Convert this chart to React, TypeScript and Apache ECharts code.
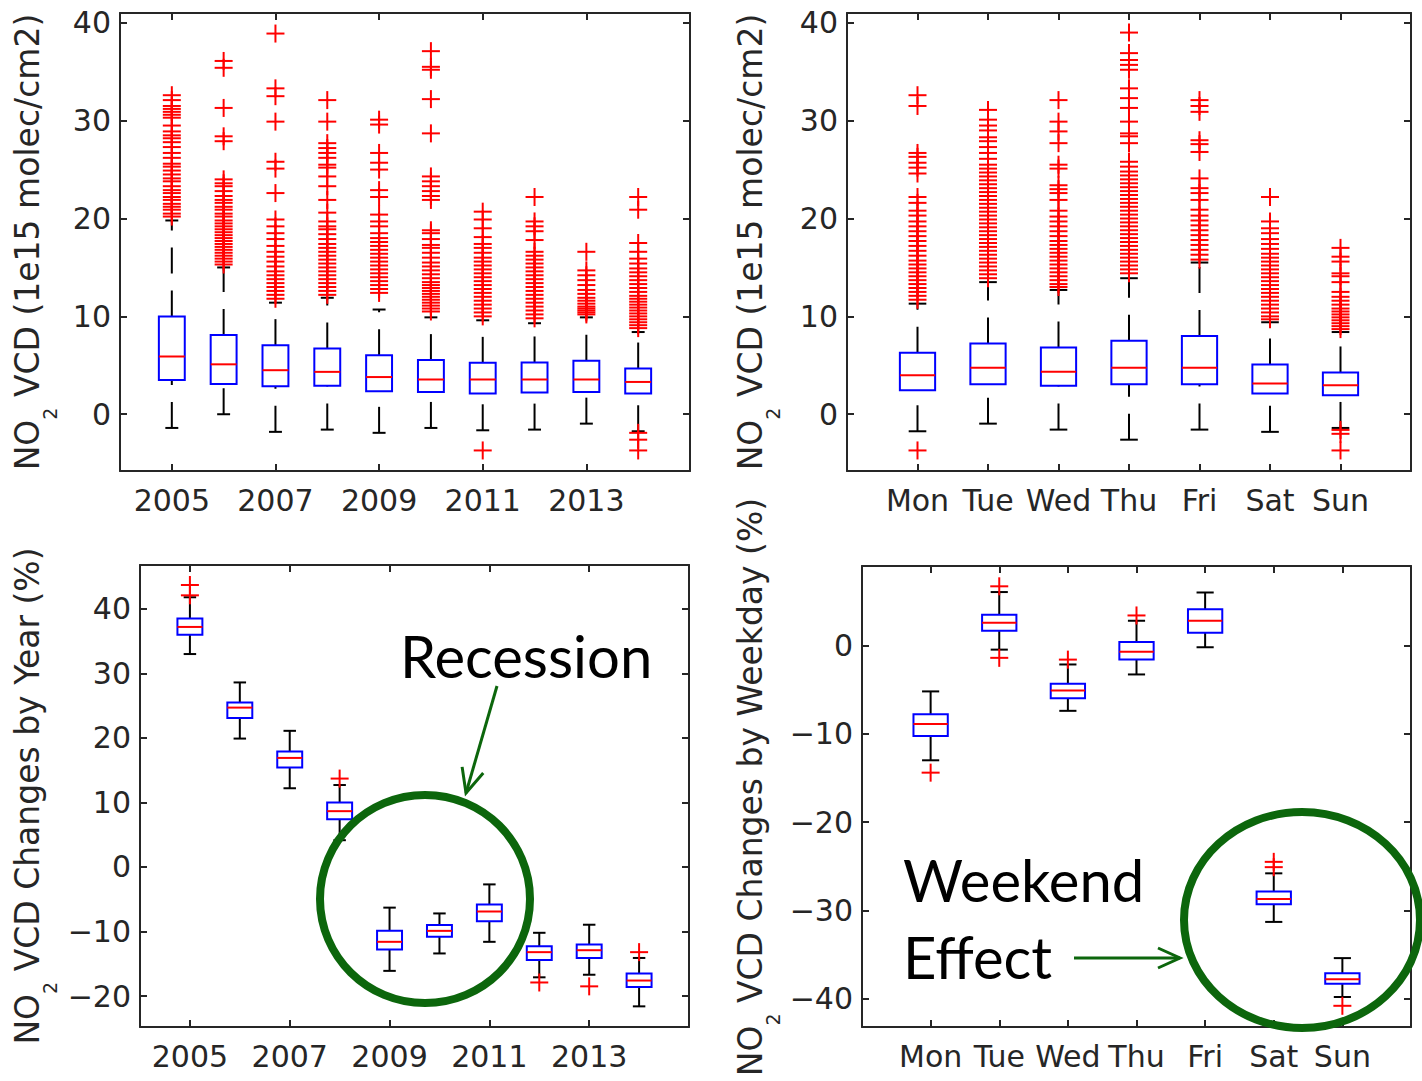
import React, { useEffect, useRef } from 'react';
import * as echarts from 'echarts';

// ---------- categories / ticks ----------
const years = [2005, 2006, 2007, 2008, 2009, 2010, 2011, 2012, 2013, 2014];
const yearTickValues = [2005, 2007, 2009, 2011, 2013];
const weekdays = ['Mon', 'Tue', 'Wed', 'Thu', 'Fri', 'Sat', 'Sun'];
const weekdayPositions = [1, 2, 3, 4, 5, 6, 7];
const vcdTicks = [0, 10, 20, 30, 40];
const yearChangeTicks = [-20, -10, 0, 10, 20, 30, 40];
const weekdayChangeTicks = [-40, -30, -20, -10, 0];

// ---------- panel a: NO2 VCD by year ----------
const vcdYearQ1 = [3.5, 3.1, 2.87, 2.9, 2.35, 2.28, 2.12, 2.22, 2.28, 2.12];
const vcdYearMedian = [5.9, 5.1, 4.5, 4.33, 3.8, 3.55, 3.55, 3.55, 3.55, 3.3];
const vcdYearQ3 = [10.0, 8.1, 7.06, 6.72, 6.04, 5.53, 5.25, 5.29, 5.46, 4.67];
const vcdYearLow = [-1.4, 0.0, -1.8, -1.57, -1.9, -1.4, -1.64, -1.57, -0.96, -1.74];
const vcdYearHigh = [19.8, 15.0, 11.4, 11.9, 10.7, 9.9, 9.6, 9.3, 9.9, 8.4];
const vcdYearOutliers = [
  [32.6, 32.1, 31.5, 31.2, 30.9, 30.6, 30.3, 29.5, 28.9, 28.5, 28.2, 27.8, 27.3, 26.7, 26.2, 25.6, 25.3, 24.9, 24.5, 24.1, 23.8, 23.3, 22.9, 22.6, 22.2, 21.9, 21.5, 21.2, 20.9, 20.5, 20.2],
  [36.1, 35.4, 31.3, 28.4, 27.9, 24.0, 23.6, 23.3, 22.8, 22.3, 21.9, 21.6, 21.2, 20.9, 20.5, 20.2, 19.8, 19.5, 19.2, 18.9, 18.6, 18.3, 18.0, 17.7, 17.4, 17.1, 16.8, 16.5, 16.2, 15.9, 15.6, 15.3],
  [38.9, 33.3, 32.5, 29.9, 25.8, 25.1, 22.6, 19.9, 19.2, 18.5, 17.9, 17.2, 16.6, 16.1, 15.6, 15.1, 14.6, 14.2, 13.8, 13.4, 13.0, 12.6, 12.2, 11.8],
  [32.1, 29.9, 27.7, 27.2, 26.7, 26.2, 25.5, 25.2, 24.3, 23.3, 21.9, 20.6, 19.7, 19.2, 18.9, 18.4, 17.9, 17.4, 17.0, 16.6, 16.2, 15.8, 15.4, 15.0, 14.6, 14.2, 13.8, 13.4, 13.0, 12.6, 12.2],
  [30.1, 29.6, 26.7, 25.7, 25.0, 22.9, 22.2, 20.4, 19.7, 19.2, 18.5, 18.0, 17.6, 17.2, 16.8, 16.4, 16.0, 15.6, 15.2, 14.8, 14.4, 14.0, 13.6, 13.2, 12.8, 12.4],
  [37.1, 35.5, 35.2, 32.2, 28.7, 24.3, 23.8, 23.3, 22.8, 22.3, 21.9, 18.8, 18.5, 17.9, 17.3, 17.0, 16.5, 16.0, 15.5, 15.1, 14.7, 14.3, 13.9, 13.5, 13.2, 12.9, 12.6, 12.3, 12.0, 11.7, 11.4, 11.1, 10.8, 10.5],
  [20.7, 19.9, 19.0, 18.1, 17.4, 17.0, 16.5, 16.0, 15.6, 15.2, 14.8, 14.4, 14.0, 13.6, 13.2, 12.8, 12.4, 12.0, 11.6, 11.2, 10.8, 10.4, 10.0, -3.7],
  [22.2, 19.7, 19.2, 18.7, 17.8, 16.6, 16.2, 15.8, 15.4, 15.0, 14.6, 14.2, 13.8, 13.4, 13.0, 12.6, 12.2, 11.8, 11.4, 11.0, 10.6, 10.2, 9.8],
  [16.6, 14.7, 14.2, 13.7, 13.2, 12.7, 12.3, 11.9, 11.6, 11.3, 11.0, 10.8, 10.6, 10.4, 10.2],
  [22.2, 20.9, 17.5, 16.6, 15.9, 15.4, 14.9, 14.5, 14.1, 13.7, 13.3, 12.9, 12.5, 12.1, 11.8, 11.5, 11.2, 10.9, 10.6, 10.3, 10.0, 9.7, 9.4, 9.1, 8.8, -1.9, -2.6, -3.7],
];

// ---------- panel b: NO2 VCD by weekday ----------
const vcdDayQ1 = [2.46, 3.07, 2.9, 3.07, 3.07, 2.12, 1.94];
const vcdDayMedian = [3.99, 4.74, 4.33, 4.74, 4.74, 3.14, 2.97];
const vcdDayQ3 = [6.28, 7.24, 6.83, 7.5, 8.0, 5.08, 4.27];
const vcdDayLow = [-1.74, -0.96, -1.57, -2.6, -1.57, -1.8, -1.4];
const vcdDayHigh = [11.3, 13.5, 12.7, 13.9, 15.5, 9.4, 8.4];
const vcdDayOutliers = [
  [32.6, 31.5, 26.7, 26.3, 25.7, 25.2, 24.6, 22.2, 21.6, 20.8, 20.3, 19.7, 19.2, 18.7, 18.2, 17.7, 17.2, 16.7, 16.2, 15.7, 15.3, 14.9, 14.5, 14.1, 13.7, 13.3, 12.9, 12.5, 12.1, 11.7, -3.7],
  [31.1, 30.1, 29.5, 29.0, 28.3, 27.9, 27.3, 26.7, 26.1, 25.5, 25.1, 24.7, 24.3, 23.9, 23.5, 23.1, 22.7, 22.3, 21.9, 21.5, 21.1, 20.7, 20.3, 19.9, 19.5, 19.1, 18.7, 18.3, 17.9, 17.5, 17.1, 16.7, 16.3, 15.9, 15.5, 15.1, 14.7, 14.3, 13.9],
  [32.1, 29.9, 28.9, 27.7, 25.5, 25.1, 23.4, 23.0, 22.6, 21.9, 20.8, 20.2, 19.7, 19.2, 18.7, 18.2, 17.7, 17.3, 16.9, 16.5, 16.1, 15.7, 15.3, 14.9, 14.5, 14.1, 13.7, 13.3, 13.0],
  [39.0, 36.9, 36.2, 35.7, 35.2, 33.3, 32.3, 31.3, 29.9, 28.7, 28.4, 27.7, 25.8, 25.3, 24.8, 24.4, 24.0, 23.6, 23.2, 22.8, 22.4, 22.0, 21.6, 21.2, 20.8, 20.4, 20.0, 19.6, 19.2, 18.8, 18.4, 18.0, 17.6, 17.2, 16.8, 16.4, 16.0, 15.6, 15.2, 14.8, 14.4],
  [32.1, 31.5, 30.9, 28.0, 27.6, 26.8, 24.1, 23.1, 22.6, 21.9, 20.9, 20.3, 19.8, 19.3, 18.8, 18.3, 17.8, 17.3, 16.8, 16.3, 15.8],
  [22.2, 19.7, 19.0, 18.5, 17.9, 17.4, 16.9, 16.4, 16.0, 15.6, 15.2, 14.8, 14.4, 14.0, 13.6, 13.2, 12.8, 12.4, 12.0, 11.6, 11.2, 10.8, 10.4, 10.0, 9.7],
  [17.0, 16.1, 15.6, 14.4, 14.1, 13.5, 12.5, 12.0, 11.6, 11.2, 10.8, 10.5, 10.2, 9.9, 9.6, 9.3, 9.0, 8.7, -1.6, -2.0, -3.7],
];

// ---------- panel c: changes by year (%) ----------
const chgYearQ1 = [36.0, 23.1, 15.4, 7.4, -12.8, -10.8, -8.4, -14.4, -14.1, -18.6];
const chgYearMedian = [37.2, 24.7, 16.9, 8.65, -11.6, -9.9, -6.9, -13.2, -12.9, -17.6];
const chgYearQ3 = [38.5, 25.5, 17.9, 10.0, -9.9, -9.0, -5.8, -12.3, -12.0, -16.5];
const chgYearLow = [33.0, 19.9, 12.2, 4.15, -16.1, -13.4, -11.6, -17.1, -16.7, -21.6];
const chgYearHigh = [41.8, 28.6, 21.1, 12.7, -6.3, -7.2, -2.7, -10.2, -8.95, -14.1];
const chgYearOutliers = [[43.7, 42.1], [], [], [13.7], [], [], [], [-17.9], [-18.5], [-13.2]];

// ---------- panel d: changes by weekday (%) ----------
const chgDayQ1 = [-10.26, 1.68, -5.97, -1.6, 1.44, -29.3, -38.3];
const chgDayMedian = [-8.9, 2.58, -5.1, -0.7, 2.8, -28.7, -37.8];
const chgDayQ3 = [-7.8, 3.47, -4.33, 0.39, 4.1, -27.86, -37.1];
const chgDayLow = [-13.0, -0.47, -7.4, -3.28, -0.2, -31.3, -39.8];
const chgDayHigh = [-5.2, 6.05, -2.15, 2.8, 6.0, -25.8, -35.4];
const chgDayOutliers = [[-14.4], [6.7, -1.4], [-1.6], [3.4], [], [-24.5, -25.1], [-40.8]];

// ---------- styling ----------
const FONT = 'DejaVu Sans';
const AXIS_COLOR = '#262626';
const TICK_FONT = 30;
const TITLE_FONT = 33;
const GREEN = '#0c660c';
const BOX_HALF = 0.25;
const CAP_HALF = 0.125;
const WHISKER_DASH = [26, 17];

function boxRenderer(params: any, api: any) {
  const x = api.value(0);
  const q1 = api.value(1);
  const med = api.value(2);
  const q3 = api.value(3);
  const lo = api.value(4);
  const hi = api.value(5);
  const c = (xv: number, yv: number) => api.coord([xv, yv]);
  const pq1L = c(x - BOX_HALF, q1);
  const pq3R = c(x + BOX_HALF, q3);
  const pMedL = c(x - BOX_HALF, med);
  const pMedR = c(x + BOX_HALF, med);
  const pq3 = c(x, q3);
  const pq1 = c(x, q1);
  const pHi = c(x, hi);
  const pLo = c(x, lo);
  const capL = c(x - CAP_HALF, hi)[0];
  const capR = c(x + CAP_HALF, hi)[0];
  const ws = { stroke: '#000', lineWidth: 2, lineDash: WHISKER_DASH, fill: null };
  const cs = { stroke: '#000', lineWidth: 2, fill: null };
  return {
    type: 'group',
    children: [
      { type: 'line', shape: { x1: pq3[0], y1: pq3[1], x2: pHi[0], y2: pHi[1] }, style: ws },
      { type: 'line', shape: { x1: pLo[0], y1: pLo[1], x2: pq1[0], y2: pq1[1] }, style: ws },
      { type: 'line', shape: { x1: capL, y1: pHi[1], x2: capR, y2: pHi[1] }, style: cs },
      { type: 'line', shape: { x1: capL, y1: pLo[1], x2: capR, y2: pLo[1] }, style: cs },
      {
        type: 'rect',
        shape: { x: pq1L[0], y: pq3R[1], width: pq3R[0] - pq1L[0], height: pq1L[1] - pq3R[1] },
        style: { stroke: '#0000ff', lineWidth: 2, fill: null },
      },
      { type: 'line', shape: { x1: pMedL[0], y1: pMedL[1], x2: pMedR[0], y2: pMedR[1] }, style: { stroke: '#ff0000', lineWidth: 2 } },
    ],
  };
}

function plusRenderer(params: any, api: any) {
  const p = api.coord([api.value(0), api.value(1)]);
  const h = 9;
  const s = { stroke: '#ff0000', lineWidth: 2 };
  return {
    type: 'group',
    children: [
      { type: 'line', shape: { x1: p[0] - h, y1: p[1], x2: p[0] + h, y2: p[1] }, style: s },
      { type: 'line', shape: { x1: p[0], y1: p[1] - h, x2: p[0], y2: p[1] + h }, style: s },
    ],
  };
}

function makeAxes(g: number, xMin: number, xMax: number, xTicks: number[], xFmt: (v: number) => string, yMin: number, yMax: number, yTicks: number[]) {
  const lineStyle = { color: AXIS_COLOR, width: 2 };
  const xBase = {
    gridIndex: g, type: 'value', min: xMin, max: xMax,
    splitLine: { show: false },
    axisLine: { show: true, onZero: false, lineStyle },
    axisTick: { show: true, inside: true, length: 7, customValues: xTicks, lineStyle },
  };
  const yBase = {
    gridIndex: g, type: 'value', min: yMin, max: yMax,
    splitLine: { show: false },
    axisLine: { show: true, onZero: false, lineStyle },
    axisTick: { show: true, inside: true, length: 7, customValues: yTicks, lineStyle },
  };
  const labelStyle = { color: AXIS_COLOR, fontFamily: FONT, fontSize: TICK_FONT };
  return {
    x: [
      { ...xBase, position: 'bottom', axisLabel: { ...labelStyle, customValues: xTicks, formatter: xFmt, margin: 14 } },
      { ...xBase, position: 'top', axisLabel: { show: false } },
    ],
    y: [
      { ...yBase, position: 'left', axisLabel: { ...labelStyle, customValues: yTicks, formatter: (v: number) => String(Math.round(v)).replace('-', '\u2212'), margin: 9 } },
      { ...yBase, position: 'right', axisLabel: { show: false } },
    ],
  };
}

function makeSeries(g: number, xs: number[], q1: number[], med: number[], q3: number[], lo: number[], hi: number[], outliers: number[][]) {
  const boxData = xs.map((x, i) => [x, q1[i], med[i], q3[i], lo[i], hi[i]]);
  const outData: number[][] = [];
  xs.forEach((x, i) => outliers[i].forEach((v) => outData.push([x, v])));
  return [
    {
      type: 'custom', xAxisIndex: 2 * g, yAxisIndex: 2 * g, renderItem: boxRenderer,
      data: boxData, encode: { x: 0, y: [1, 2, 3, 4, 5] }, z: 2,
    },
    {
      type: 'custom', xAxisIndex: 2 * g, yAxisIndex: 2 * g, renderItem: plusRenderer,
      data: outData, encode: { x: 0, y: 1 }, z: 3,
    },
  ];
}

function yTitle(x: number, y: number, rest: string) {
  return {
    type: 'text', x, y, rotation: Math.PI / 2, z: 50,
    style: {
      text: `{n|NO}{s|2}{n|${rest}}`,
      align: 'center', verticalAlign: 'middle',
      rich: {
        n: { fontFamily: FONT, fontSize: TITLE_FONT, lineHeight: 64, fill: AXIS_COLOR },
        s: { fontFamily: FONT, fontSize: 19, lineHeight: 19, verticalAlign: 'bottom', fill: AXIS_COLOR },
      },
    },
  };
}

function arrowHead(tipX: number, tipY: number, dx: number, dy: number, len: number, spread: number) {
  const n = Math.sqrt(dx * dx + dy * dy);
  const ux = dx / n, uy = dy / n;
  const bx = tipX - ux * len, by = tipY - uy * len;
  const px = -uy * spread, py = ux * spread;
  return {
    type: 'polyline', z: 60,
    shape: { points: [[bx + px, by + py], [tipX, tipY], [bx - px, by - py]] },
    style: { stroke: GREEN, lineWidth: 3, fill: null },
  };
}

export default function App() {
  const ref = useRef<HTMLDivElement>(null);
  useEffect(() => {
    if (!ref.current) return;
    const chart = echarts.init(ref.current, null, { renderer: 'svg' });
    const yearFmt = (v: number) => String(Math.round(v));
    const dayFmt = (v: number) => weekdays[Math.round(v) - 1] || '';

    const a0 = makeAxes(0, 2004, 2015, yearTickValues, yearFmt, -5.8, 41, vcdTicks);
    const a1 = makeAxes(1, 0, 8, weekdayPositions, dayFmt, -5.8, 41, vcdTicks);
    const a2 = makeAxes(2, 2004, 2015, yearTickValues, yearFmt, -24.8, 46.8, yearChangeTicks);
    const a3 = makeAxes(3, 0, 8, weekdayPositions, dayFmt, -43.2, 9, weekdayChangeTicks);

    const option: any = {
      animation: false,
      backgroundColor: '#ffffff',
      grid: [
        { left: 120, top: 13, width: 570, height: 458 },
        { left: 847, top: 13, width: 564, height: 458 },
        { left: 140, top: 565, width: 549, height: 462 },
        { left: 862, top: 566, width: 549, height: 461 },
      ],
      xAxis: [...a0.x, ...a1.x, ...a2.x, ...a3.x],
      yAxis: [...a0.y, ...a1.y, ...a2.y, ...a3.y],
      series: [
        ...makeSeries(0, years, vcdYearQ1, vcdYearMedian, vcdYearQ3, vcdYearLow, vcdYearHigh, vcdYearOutliers),
        ...makeSeries(1, weekdayPositions, vcdDayQ1, vcdDayMedian, vcdDayQ3, vcdDayLow, vcdDayHigh, vcdDayOutliers),
        ...makeSeries(2, years, chgYearQ1, chgYearMedian, chgYearQ3, chgYearLow, chgYearHigh, chgYearOutliers),
        ...makeSeries(3, weekdayPositions, chgDayQ1, chgDayMedian, chgDayQ3, chgDayLow, chgDayHigh, chgDayOutliers),
      ],
      graphic: [
        yTitle(27, 242, ' VCD (1e15 molec/cm2)'),
        yTitle(750, 242, ' VCD (1e15 molec/cm2)'),
        yTitle(27, 796, ' VCD Changes by Year (%)'),
        yTitle(750, 787, ' VCD Changes by Weekday (%)'),
        {
          type: 'text', x: 400, y: 655, z: 60,
          style: { text: 'Recession', fontFamily: 'Lato', fontSize: 58, fill: '#000', align: 'left', verticalAlign: 'middle' },
        },
        {
          type: 'text', x: 903, y: 879, z: 60,
          style: { text: 'Weekend', fontFamily: 'Lato', fontSize: 58, fill: '#000', align: 'left', verticalAlign: 'middle' },
        },
        {
          type: 'text', x: 903, y: 956, z: 60,
          style: { text: 'Effect', fontFamily: 'Lato', fontSize: 58, fill: '#000', align: 'left', verticalAlign: 'middle' },
        },
        {
          type: 'ellipse', z: 60, shape: { cx: 425, cy: 899, rx: 105, ry: 104 },
          style: { stroke: GREEN, lineWidth: 8, fill: null },
        },
        {
          type: 'ellipse', z: 60, shape: { cx: 1302, cy: 920, rx: 118, ry: 108 },
          style: { stroke: GREEN, lineWidth: 8, fill: null },
        },
        { type: 'line', z: 60, shape: { x1: 497, y1: 686, x2: 466, y2: 793 }, style: { stroke: GREEN, lineWidth: 3 } },
        arrowHead(466, 793, -31, 107, 24, 11),
        { type: 'line', z: 60, shape: { x1: 1074, y1: 958, x2: 1180, y2: 958 }, style: { stroke: GREEN, lineWidth: 3 } },
        arrowHead(1180, 958, 1, 0, 22, 10),
      ],
    };
    chart.setOption(option);
    return () => chart.dispose();
  }, []);
  return (
    <div
      ref={ref}
      style={{ position: 'absolute', left: 0, top: 0, width: 1422, height: 1081, background: '#fff' }}
    />
  );
}
